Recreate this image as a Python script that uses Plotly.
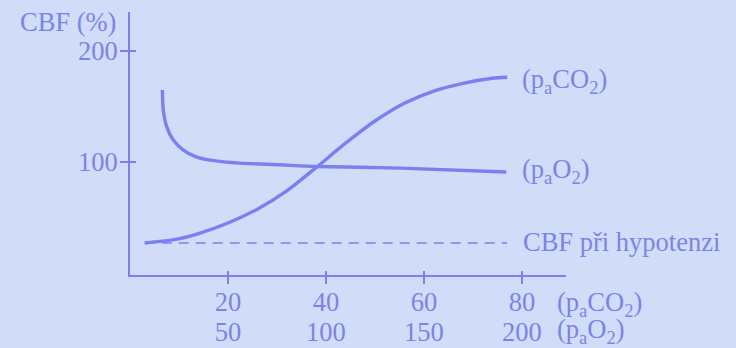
import plotly.graph_objects as go

# --- data ---
paco2_x = [3, 9, 14, 20, 26, 32, 38, 44, 50, 56, 62, 68, 74, 77]
paco2_cbf = [27, 30, 35.5, 45, 57.5, 74, 95, 117, 137, 153, 164, 171, 175.5, 176.5]

pao2_x = [16.5, 17, 18.7, 22, 27, 34, 42, 56, 76.5, 95, 138, 192]
pao2_cbf = [165, 147, 132, 120, 111, 104.5, 101.5, 99, 97.5, 96, 94.5, 91]

hypo_x = [3, 77]
hypo_cbf = [27, 27]

co2_ticks = [20, 40, 60, 80]
o2_ticks = [50, 100, 150, 200]
cbf_ticks = [100, 200]

BG = "#d1dcf8"
LINE = "#7a80ef"
TXT = "#7b84e6"
FONT = "Liberation Serif, Times New Roman, serif"
FS = 26.5

fig = go.Figure()
fig.add_trace(go.Scatter(x=paco2_x, y=paco2_cbf, mode="lines",
                         line=dict(color=LINE, width=3.4, shape="spline", smoothing=0.7),
                         xaxis="x", yaxis="y", hoverinfo="skip"))
fig.add_trace(go.Scatter(x=pao2_x, y=pao2_cbf, mode="lines",
                         line=dict(color=LINE, width=3.4, shape="spline", smoothing=0.7),
                         xaxis="x2", yaxis="y", hoverinfo="skip"))
fig.add_trace(go.Scatter(x=hypo_x, y=hypo_cbf, mode="lines",
                         line=dict(color=LINE, width=1.6, dash="10px,7px"),
                         xaxis="x", yaxis="y", hoverinfo="skip"))

ydom0 = (348 - 275) / 336
xr = [0, 89]
yr = [-1.9, 235.3]

fig.update_layout(
    template="none",
    width=736, height=348,
    margin=dict(l=130, r=170, t=12, b=0, pad=0),
    paper_bgcolor=BG, plot_bgcolor=BG,
    showlegend=False,
    font=dict(family=FONT, size=FS, color=TXT),
    xaxis=dict(domain=[0, 1], range=xr, anchor="y", showline=True, linecolor=LINE, linewidth=2,
               ticks="outside", ticklen=7, tickwidth=2, tickcolor=LINE,
               tickvals=co2_ticks, ticktext=[str(v) for v in co2_ticks],
               tickfont=dict(family=FONT, size=FS, color=TXT), ticklabelstandoff=-5,
               showgrid=False, zeroline=False, automargin=False, fixedrange=True),
    xaxis3=dict(overlaying="x", range=xr, anchor="y", showline=False,
                ticks="inside", ticklen=4, tickwidth=2, tickcolor=LINE,
                tickvals=co2_ticks, showticklabels=False,
                showgrid=False, zeroline=False, automargin=False),
    xaxis2=dict(overlaying="x", range=[xr[0] * 2.5, xr[1] * 2.5], anchor="free",
                position=(348 - 313.5) / 336, showline=False, ticks="",
                tickvals=o2_ticks, ticktext=[str(v) for v in o2_ticks],
                tickfont=dict(family=FONT, size=FS, color=TXT),
                showgrid=False, zeroline=False, automargin=False),
    yaxis=dict(domain=[ydom0, 1], range=yr, anchor="x", showline=True, linecolor=LINE, linewidth=2,
               ticks="outside", ticklen=8, tickwidth=2, tickcolor=LINE,
               tickvals=cbf_ticks, ticktext=[str(v) for v in cbf_ticks],
               tickfont=dict(family=FONT, size=FS, color=TXT), ticklabelstandoff=-3,
               showgrid=False, zeroline=False, automargin=False, fixedrange=True),
    yaxis2=dict(overlaying="y", range=yr, anchor="x", showline=False,
                ticks="inside", ticklen=6, tickwidth=2, tickcolor=LINE,
                tickvals=cbf_ticks, showticklabels=False,
                showgrid=False, zeroline=False, automargin=False),
)

# invisible trace to activate overlay axes
fig.add_trace(go.Scatter(x=[None], y=[None], xaxis="x3", yaxis="y2", showlegend=False))

ann = []
ann.append(dict(text="CBF (%)", xref="paper", yref="paper", x=0, y=1, xanchor="right",
                yanchor="middle", xshift=-12, yshift=-10, showarrow=False))
ann.append(dict(text="(p<sub>a</sub>CO<sub>2</sub>)", xref="x", yref="y",
                x=paco2_x[-1], y=paco2_cbf[-1], xanchor="left", yanchor="middle",
                xshift=13, yshift=-4, showarrow=False))
ann.append(dict(text="(p<sub>a</sub>O<sub>2</sub>)", xref="x2", yref="y",
                x=pao2_x[-1], y=pao2_cbf[-1], xanchor="left", yanchor="middle",
                xshift=14, yshift=1, showarrow=False))
ann.append(dict(text="CBF při hypotenzi", xref="x", yref="y",
                x=hypo_x[-1], y=hypo_cbf[-1], xanchor="left", yanchor="middle",
                xshift=14, yshift=1, showarrow=False))
ann.append(dict(text="(p<sub>a</sub>CO<sub>2</sub>)", xref="x", yref="paper",
                x=86.9, y=(348 - 301) / 336, xanchor="left", yanchor="middle",
                yshift=-3, borderpad=0, showarrow=False))
ann.append(dict(text="(p<sub>a</sub>O<sub>2</sub>)", xref="x", yref="paper",
                x=86.9, y=(348 - 331) / 336, xanchor="left", yanchor="middle",
                yshift=0, borderpad=0, showarrow=False))
fig.update_layout(annotations=ann)

fig.write_html("out.html", config={"displayModeBar": False},
               post_script="document.body.style.margin='0';document.body.style.overflow='hidden';")
